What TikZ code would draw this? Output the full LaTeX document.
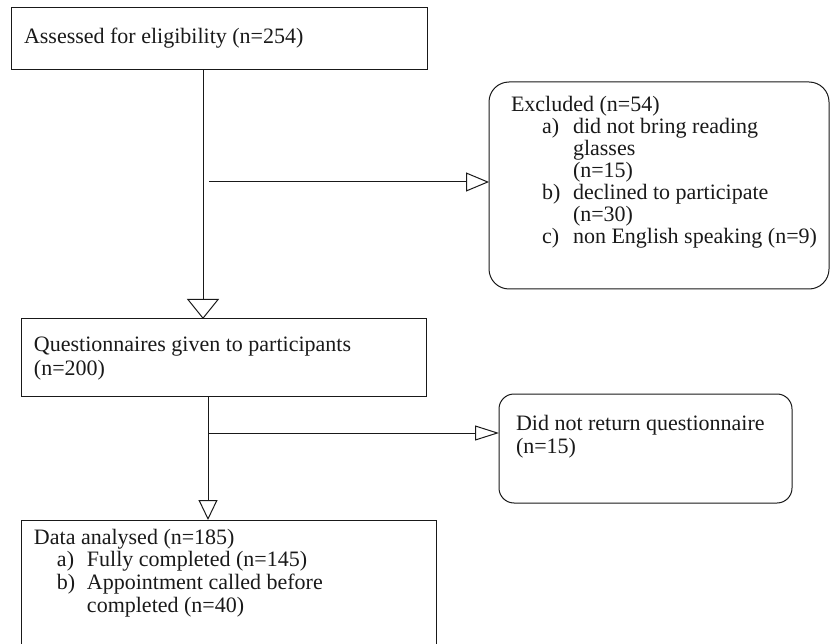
\documentclass[tikz,border=0pt]{standalone}
\usepackage{fontspec}
\setmainfont{Liberation Serif}
\usetikzlibrary{arrows.meta}
\begin{document}
\begin{tikzpicture}[x=1pt,y=-1pt,
  font=\fontsize{22}{23.5}\selectfont,
  box/.style={draw=black!90, line width=1pt, inner sep=0pt, outer sep=0pt, anchor=north west},
  rbox/.style={box, rounded corners=#1},
  txt/.style={inner sep=0pt, outer sep=0pt, anchor=base west, text=black!90},
  exlist/.style={txt, font=\fontsize{22}{22}\selectfont},
  dalist/.style={txt, font=\fontsize{22}{22.7}\selectfont},
  conn/.style={draw=black!90, line width=1pt},
]
\useasboundingbox (0,0) rectangle (830,644);
\clip (0,0) rectangle (830,644);

% boxes
\node[box, minimum width=416pt, minimum height=62pt] (b1) at (11,8) {};
\node[rbox=20pt, minimum width=340pt, minimum height=207pt] (ex) at (489,82) {};
\node[box, minimum width=405pt, minimum height=77pt] (b2) at (21,319) {};
\node[rbox=15pt, minimum width=293pt, minimum height=109pt] (dn) at (499,394) {};
\node[box, minimum width=415pt, minimum height=130pt] (b3) at (21,520) {};

% texts
\node[txt] (t1) at (24,44) {Assessed for eligibility (n=254)};
\node[exlist] (t2) at (511,112) {\begin{tabular}[t]{@{}l@{}}
Excluded (n=54)\\
\hspace*{31pt}\makebox[31pt][l]{a)}did not bring reading\\
\hspace*{62pt}glasses\\
\hspace*{62pt}(n=15)\\
\hspace*{31pt}\makebox[31pt][l]{b)}declined to participate\\
\hspace*{62pt}(n=30)\\
\hspace*{31pt}\makebox[31pt][l]{c)}non English speaking (n=9)
\end{tabular}};
\node[txt] (t3) at (34,352) {\begin{tabular}[t]{@{}l@{}}
Questionnaires given to participants\\
(n=200)
\end{tabular}};
\node[txt] (t4) at (516,430) {\begin{tabular}[t]{@{}l@{}}
Did not return questionnaire\\
(n=15)
\end{tabular}};
\node[dalist] (t5) at (34,544) {\begin{tabular}[t]{@{}l@{}}
Data analysed (n=185)\\
\hspace*{23pt}\makebox[30pt][l]{a)}Fully completed (n=145)\\
\hspace*{23pt}\makebox[30pt][l]{b)}Appointment called before\\
\hspace*{53pt}completed (n=40)
\end{tabular}};

% connector anchor points
\coordinate (v1) at (203,0);
\coordinate (h1) at (209,182);
\coordinate (v2) at (208,0);
\coordinate (h2) at (208,433);

% connectors
\draw[conn, -{Triangle[open, length=20pt, width=32pt]}] (b1.south -| v1) -- (b2.north -| v1);
\draw[conn, -{Triangle[open, length=23pt, width=19pt]}] (h1) -- (ex.west |- h1);
\draw[conn, -{Triangle[open, length=20pt, width=19pt]}] (b2.south -| v2) -- (b3.north -| v2);
\draw[conn, -{Triangle[open, length=24pt, width=15pt]}] (h2) -- (dn.west |- h2);
\end{tikzpicture}
\end{document}
